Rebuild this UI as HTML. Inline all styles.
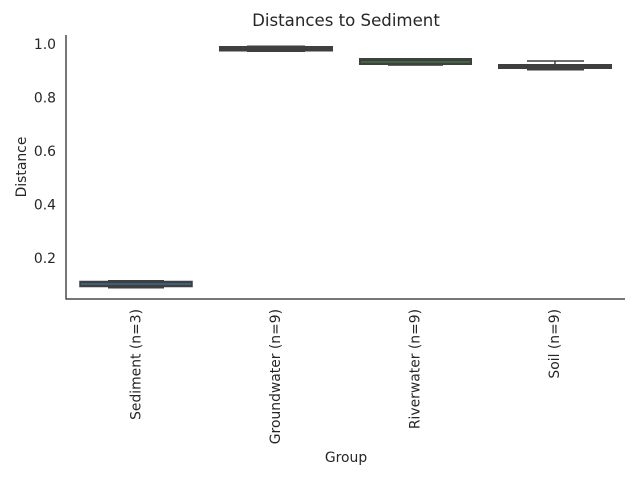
<!DOCTYPE html>
<html><head><meta charset="utf-8"><style>
html,body{margin:0;padding:0;background:#fff;}
svg{display:block;}
text{font-family:"DejaVu Sans","Liberation Sans",sans-serif;fill:#262626;}
</style></head><body>
<svg width="640" height="480" viewBox="0 0 640 480" xmlns="http://www.w3.org/2000/svg">
<text x="346" y="26" font-size="16.6" text-anchor="middle">Distances to Sediment</text>
<line x1="66" y1="35" x2="66" y2="299.5" stroke="#262626" stroke-width="1.25"/>
<line x1="65.5" y1="299" x2="625" y2="299" stroke="#262626" stroke-width="1.25"/>
<g font-size="13.9" text-anchor="end">
<text x="56" y="49">1.0</text>
<text x="56" y="102.5">0.8</text>
<text x="56" y="156">0.6</text>
<text x="56" y="209.5">0.4</text>
<text x="56" y="263">0.2</text>
</g>
<text transform="translate(26,167) rotate(-90)" font-size="13.9" text-anchor="middle">Distance</text>
<text x="346" y="462" font-size="13.9" text-anchor="middle">Group</text>
<g font-size="13.9" text-anchor="end">
<text transform="translate(140.5,309) rotate(-90)">Sediment (n=3)</text>
<text transform="translate(280,309) rotate(-90)">Groundwater (n=9)</text>
<text transform="translate(419.5,309) rotate(-90)">Riverwater (n=9)</text>
<text transform="translate(559,309) rotate(-90)">Soil (n=9)</text>
</g>
<rect x="80" y="281.5" width="112" height="5" fill="#3f3f3f" stroke="#3f3f3f" stroke-width="1.5"/>
<rect x="108" y="280" width="56" height="8.5" fill="#3f3f3f"/>
<line x1="81" y1="284" x2="191" y2="284" stroke="#3274a1" stroke-width="1.2"/>
<rect x="219.5" y="46.5" width="113" height="4.5" fill="#3f3f3f" stroke="#3f3f3f" stroke-width="1"/>
<rect x="247" y="45.5" width="58" height="6.5" fill="#3f3f3f"/>
<rect x="359.5" y="58.5" width="112" height="6" fill="#3f3f3f" stroke="#3f3f3f" stroke-width="1"/>
<rect x="388" y="63" width="55" height="2.8" fill="#3f3f3f"/>
<line x1="361" y1="62" x2="470" y2="62" stroke="#3a923a" stroke-width="1"/>
<rect x="498.5" y="64.5" width="113" height="4" fill="#3f3f3f" stroke="#3f3f3f" stroke-width="1"/>
<line x1="527" y1="61" x2="584" y2="61" stroke="#3f3f3f" stroke-width="1.5"/>
<line x1="527" y1="69.8" x2="584" y2="69.8" stroke="#3f3f3f" stroke-width="1.5"/>
<line x1="555" y1="61" x2="555" y2="69.8" stroke="#3f3f3f" stroke-width="1.5"/>
</svg>
</body></html>
